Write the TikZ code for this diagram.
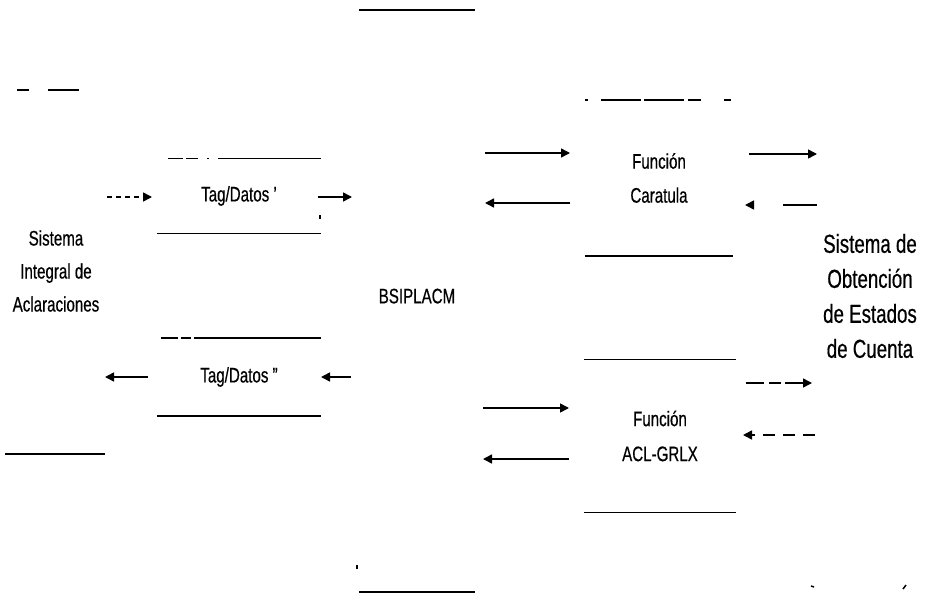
\documentclass[tikz,border=0pt]{standalone}
\usepackage{fontspec}
\setmainfont{Liberation Sans}[FakeStretch=0.72,FakeBold=0.5]
\usetikzlibrary{arrows.meta}

\begin{document}
\begin{tikzpicture}[x=1pt,y=-1pt,
    texto/.style={font=\fontsize{21}{33}\selectfont,align=center,inner sep=0pt},
    caja/.style={texto,minimum width=#1},
    borde/.style={line width=1.5pt},
    flecha/.style={-{Triangle[length=9pt,width=9pt]},line width=1.5pt},
    rayas/.style={flecha,dash pattern=#1}]
  \fill[white] (0,0) rectangle (930,595);
  \useasboundingbox (0,0) rectangle (930,595);

  % sistemas y cajas
  \node[texto] (siac) at (56,271) {Sistema\\Integral de\\Aclaraciones};
  \node[texto,font=\fontsize{26}{35}\selectfont] (soec) at (870,296)
    {Sistema de\\Obtención\\de Estados\\de Cuenta};
  \node[caja=164pt,minimum height=75pt] (datosA) at (239,196) {Tag/Datos '};
  \node[caja=164pt,minimum height=78pt] (datosB) at (239,377) {Tag/Datos "};
  \node[caja=116pt,minimum height=582pt,text depth=10pt] (bsip) at (417,301) {BSIPLACM};
  \node[caja=148pt,minimum height=156pt,font=\fontsize{21}{34}\selectfont] (carat) at (659,178) {Función\\Caratula};
  \node[caja=151pt,minimum height=153pt,font=\fontsize{21}{35}\selectfont] (aclg) at (660,436) {Función\\ACL-GRLX};

  % bordes de las cajas
  \draw[borde,dash pattern=on 0pt off 11pt on 15pt off 3pt on 12pt off 9pt on 2pt off 9pt on 200pt]
    (datosA.north west) -- (datosA.north east);
  \draw[borde] (datosA.south west) -- (datosA.south east);
  \draw[borde,dash pattern=on 0pt off 4pt on 17pt off 3pt on 10pt off 3pt on 200pt]
    (datosB.north west) -- (datosB.north east);
  \draw[borde] (datosB.south west) -- (datosB.south east);
  \draw[borde] (bsip.north west) -- (bsip.north east);
  \draw[borde] (bsip.south west) -- (bsip.south east);
  \draw[borde,dash pattern=on 3pt off 13pt on 40pt off 3pt on 40pt off 4pt on 13pt off 23pt on 7pt]
    (carat.north west) -- (carat.north east);
  \draw[borde] (carat.south west) -- (carat.south east);
  \draw[borde] (aclg.north west) -- (aclg.north east);
  \draw[borde] (aclg.south west) -- (aclg.south east);

  % extremos de las flechas
  \foreach \n/\x/\y in {sa1/107/197, sa2/152/197, sa3/318/197, sa4/352/197,
      sb1/148/377, sb2/105/377, sb3/351/377, sb4/321/377,
      ca1/485/153, ca2/570/153, ca3/570/203, ca4/485/203,
      ca5/749/154, ca6/817/154, ca7/817/205, ca8/745/205,
      ac1/483/408, ac2/569/408, ac3/569/459, ac4/483/459,
      ac5/746/383, ac6/812/383, ac7/815/435, ac8/743/435}
    \coordinate (\n) at (\x,\y);

  \draw[rayas={on 5pt off 4pt}] (sa1) -- (sa2);
  \draw[flecha] (sa3) -- (sa4);
  \draw[flecha] (sb1) -- (sb2);
  \draw[flecha] (sb3) -- (sb4);

  \draw[flecha] (ca1) -- (ca2);
  \draw[flecha] (ca3) -- (ca4);
  \draw[flecha] (ca5) -- (ca6);
  \draw[rayas={on 34pt off 40pt}] (ca7) -- (ca8);

  \draw[flecha] (ac1) -- (ac2);
  \draw[flecha] (ac3) -- (ac4);
  \draw[rayas={on 18pt off 5pt on 12pt off 4pt}] (ac5) -- (ac6);
  \draw[rayas={on 12pt off 8pt}] (ac7) -- (ac8);

  % trazos sueltos
  \foreach \n/\xa/\ya/\xb/\yb in {f1/17/90/29/90, f2/48/90/79/90, f3/5/454/105/454,
      f4/357/565/357/569, f5/320/215/320/219, f6/811/586/814/587, f7/903/589/906/585}
    \draw[borde] (\xa,\ya) coordinate (\n a) -- (\xb,\yb) coordinate (\n b);
\end{tikzpicture}
\end{document}
